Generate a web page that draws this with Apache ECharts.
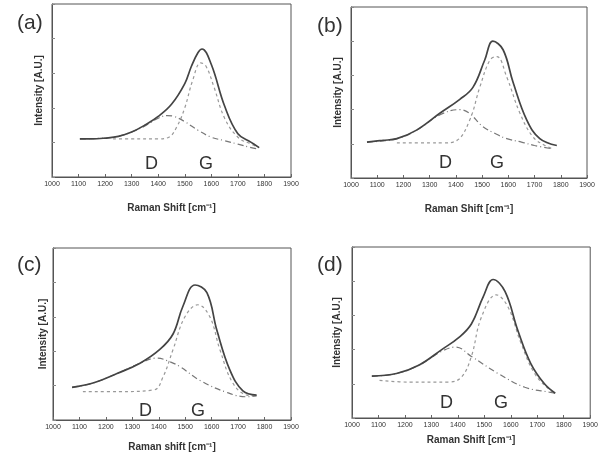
<!DOCTYPE html>
<html>
<head>
<meta charset="utf-8">
<script src="https://cdn.jsdelivr.net/npm/echarts@6/dist/echarts.min.js"></script>
<style>
  html, body { margin: 0; padding: 0; background: #fff; }
  #main { width: 601px; height: 459px; }
</style>
</head>
<body>
<div id="main"></div>
<script>
// Raman spectra, four samples: total fit + D band + G band
var xTicks = [1000, 1100, 1200, 1300, 1400, 1500, 1600, 1700, 1800, 1900];
var panelLetters = ['(a)', '(b)', '(c)', '(d)'];
var xNames = ['Raman Shift [cm\u207B\u00B9]', 'Raman Shift [cm\u207B\u00B9]', 'Raman shift [cm\u207B\u00B9]', 'Raman Shift [cm\u207B\u00B9]'];

// (a)
var aTotal = [[1105,0.22],[1150,0.22],[1200,0.225],[1250,0.235],[1300,0.26],[1350,0.30],[1400,0.35],[1450,0.42],[1500,0.54],[1525,0.64],[1550,0.72],[1565,0.74],[1600,0.65],[1650,0.41],[1700,0.25],[1750,0.20],[1780,0.17]];
var aD = [[1105,0.22],[1200,0.225],[1250,0.235],[1300,0.26],[1350,0.295],[1400,0.34],[1435,0.355],[1460,0.35],[1500,0.32],[1550,0.27],[1600,0.23],[1650,0.21],[1700,0.19],[1750,0.17],[1780,0.16]];
var aG = [[1230,0.22],[1300,0.22],[1400,0.22],[1440,0.23],[1470,0.29],[1500,0.40],[1530,0.56],[1560,0.66],[1580,0.64],[1610,0.52],[1650,0.34],[1700,0.23],[1750,0.19],[1780,0.17]];

// (b)
var bTotal = [[1061,0.21],[1120,0.22],[1175,0.23],[1250,0.28],[1340,0.38],[1415,0.46],[1465,0.53],[1510,0.69],[1541,0.80],[1580,0.75],[1618,0.56],[1670,0.34],[1720,0.23],[1785,0.19]];
var bD = [[1061,0.21],[1175,0.23],[1250,0.28],[1340,0.37],[1415,0.40],[1450,0.38],[1503,0.30],[1550,0.26],[1594,0.23],[1650,0.21],[1700,0.19],[1770,0.17]];
var bG = [[1175,0.205],[1300,0.205],[1350,0.205],[1404,0.22],[1453,0.34],[1491,0.53],[1530,0.69],[1556,0.71],[1594,0.59],[1644,0.38],[1694,0.24],[1740,0.19],[1770,0.17]];

// (c)
var cTotal = [[1072,0.19],[1151,0.215],[1242,0.27],[1329,0.33],[1404,0.41],[1454,0.50],[1491,0.66],[1537,0.785],[1582,0.74],[1620,0.52],[1669,0.29],[1718,0.17],[1770,0.145]];
var cD = [[1072,0.19],[1151,0.215],[1242,0.27],[1329,0.33],[1393,0.36],[1440,0.34],[1480,0.31],[1556,0.23],[1658,0.16],[1733,0.135],[1770,0.14]];
var cG = [[1113,0.165],[1250,0.165],[1382,0.175],[1416,0.25],[1454,0.41],[1499,0.60],[1548,0.67],[1593,0.60],[1631,0.41],[1680,0.215],[1733,0.145],[1770,0.14]];

// (d)
var dTotal = [[1075,0.245],[1168,0.26],[1254,0.31],[1339,0.40],[1403,0.47],[1451,0.55],[1496,0.71],[1533,0.81],[1578,0.74],[1627,0.51],[1675,0.32],[1727,0.20],[1768,0.145]];
var dD = [[1075,0.245],[1168,0.26],[1254,0.31],[1339,0.39],[1392,0.415],[1451,0.36],[1552,0.26],[1653,0.18],[1750,0.15],[1768,0.145]];
var dG = [[1104,0.22],[1216,0.21],[1366,0.21],[1414,0.24],[1451,0.36],[1489,0.59],[1545,0.72],[1589,0.65],[1638,0.44],[1690,0.26],[1750,0.16],[1768,0.145]];

var totals = [aTotal, bTotal, cTotal, dTotal];
var dBands = [aD, bD, cD, dD];
var gBands = [aG, bG, cG, dG];

// plot boxes
var boxes = [
  { left: 52, top: 4, width: 239, height: 173, xGap: 26, yGap: 8, letter: [12, 8], dPos: [140, 150], gPos: [194, 150] },
  { left: 351, top: 7, width: 236, height: 171, xGap: 26, yGap: 8, letter: [312, 11], dPos: [434, 149], gPos: [485, 149] },
  { left: 53, top: 248, width: 238, height: 172, xGap: 22, yGap: 5, letter: [12, 250], dPos: [134, 397], gPos: [186, 397] },
  { left: 352, top: 247, width: 241, height: 171, xGap: 17, yGap: 10, letter: [312, 250], dPos: [435, 389], gPos: [489, 389] }
];

var font = 'Liberation Sans, Arial, sans-serif';
var chart = echarts.init(document.getElementById('main'));

var grids = [], xAxes = [], yAxes = [], series = [], titles = [];
boxes.forEach(function (b, i) {
  grids.push({ left: b.left, top: b.top, width: b.width, height: b.height, show: true, borderColor: '#555', borderWidth: 1, backgroundColor: '#fff' });
  xAxes.push({
    gridIndex: i, type: 'value', min: xTicks[0], max: xTicks[xTicks.length - 1], interval: 100,
    name: xNames[i], nameLocation: 'middle', nameGap: b.xGap,
    nameTextStyle: { fontFamily: font, fontSize: 10, fontWeight: 'bold', color: '#333' },
    axisLine: { lineStyle: { color: '#555' } },
    axisTick: { inside: true, length: 3, lineStyle: { color: '#666' } },
    axisLabel: {
      fontFamily: font, fontSize: 7, color: '#333', margin: 4, showMinLabel: true, showMaxLabel: true,
      formatter: function (v) { return String(v); }
    },
    splitLine: { show: false }
  });
  yAxes.push({
    gridIndex: i, type: 'value', min: 0, max: 1, interval: 0.2,
    name: 'Intensity [A.U.]', nameLocation: 'middle', nameGap: b.yGap,
    nameTextStyle: { fontFamily: font, fontSize: 10, fontWeight: 'bold', color: '#333' },
    axisLine: { lineStyle: { color: '#555' } },
    axisTick: { inside: true, length: 3, lineStyle: { color: '#888' } },
    axisLabel: { show: false },
    splitLine: { show: false }
  });
  series.push({
    type: 'line', xAxisIndex: i, yAxisIndex: i, data: totals[i], smooth: 0.4, showSymbol: false,
    lineStyle: { color: '#444', width: 1.7 }, z: 3
  });
  series.push({
    type: 'line', xAxisIndex: i, yAxisIndex: i, data: dBands[i], smooth: 0.4, showSymbol: false,
    lineStyle: { color: '#777', width: 1.2, type: [6, 3, 1, 3] }, z: 2
  });
  series.push({
    type: 'line', xAxisIndex: i, yAxisIndex: i, data: gBands[i], smooth: 0.4, showSymbol: false,
    lineStyle: { color: '#999', width: 1.2, type: [3, 3] }, z: 2
  });
  titles.push({ text: panelLetters[i], left: b.letter[0], top: b.letter[1], textStyle: { fontFamily: font, fontSize: 21, fontWeight: 'normal', color: '#333' } });
  titles.push({ text: 'D', left: b.dPos[0], top: b.dPos[1], textStyle: { fontFamily: font, fontSize: 18, fontWeight: 'normal', color: '#333' } });
  titles.push({ text: 'G', left: b.gPos[0], top: b.gPos[1], textStyle: { fontFamily: font, fontSize: 18, fontWeight: 'normal', color: '#333' } });
});

chart.setOption({
  backgroundColor: '#fff',
  animation: false,
  title: titles,
  grid: grids,
  xAxis: xAxes,
  yAxis: yAxes,
  series: series
});
</script>
</body>
</html>
